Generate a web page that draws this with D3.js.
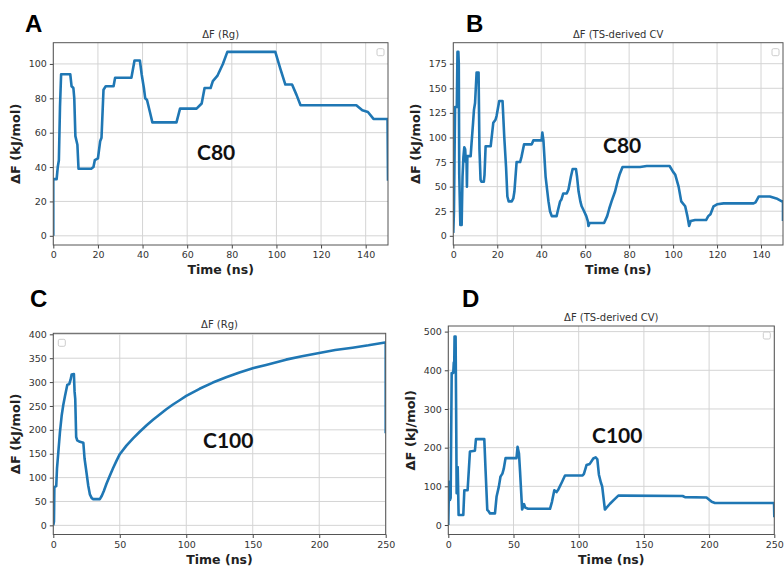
<!DOCTYPE html>
<html>
<head>
<meta charset="utf-8">
<script src="https://cdn.jsdelivr.net/npm/d3@7"></script>
<style>
  body { margin: 0; background: #fff; }
  svg { display: block; }
</style>
</head>
<body>
<script>
// Data: [time (ns), dF (kJ/mol)]
const rgC80 = [[0,0],[0,33],[1.5,33],[2,40],[2.5,44],[3,75],[3.5,94],[7.6,94],[8.2,87],[9,86],[9.4,80],[9.9,58],[10.8,53],[11.3,39],[17,39],[18,40],[18.6,44],[20,45],[21,55],[21.6,57],[22.5,85],[23.5,87],[27,87],[27.7,92],[35,92],[36.4,102],[38.8,102],[39.6,94],[40.6,86],[41.2,80],[42,79],[43.3,72],[44.4,66],[55.2,66],[56.8,74],[64.2,74],[66.5,77],[67.8,86],[70.5,86],[71.5,90],[73.5,93],[76,100],[78,107],[99.5,107],[101.8,97],[104,88],[107,88],[109,82],[110.8,76],[135.8,76],[138.5,73],[141,72],[143.5,68],[149.8,68],[150,32]];

const tsC80 = [[0,3],[0.3,25],[0.8,131],[1.6,131],[1.9,187],[2.3,187],[2.5,175],[2.7,63],[3.2,11],[3.8,11],[4.2,60],[4.6,80],[5.0,90],[5.4,88],[5.7,75],[6.0,80],[6.2,50],[6.4,81],[7.9,81],[8.3,94],[9.0,115],[9.4,128],[9.9,135],[10.6,166],[11.5,166],[11.9,88],[12.4,57],[12.8,55],[13.9,55],[14.2,62],[14.7,91],[17.0,91],[18.2,115],[19.2,118],[19.7,122],[20.9,137],[22.4,137],[23.2,100],[24.0,70],[24.6,40],[25.2,35],[26.6,35],[27.3,38],[27.8,45],[28.8,75],[30.4,75],[31.0,80],[32.2,93],[35.7,93],[36.4,97],[40.2,97],[40.5,105],[41.0,97],[42.0,60],[43.3,35],[44.0,25],[44.8,20],[47.0,20],[47.5,25],[48.6,35],[49.2,37],[50.0,43],[51.6,43],[52.4,47],[53.5,60],[54.3,68],[55.8,68],[56.3,60],[57.0,45],[57.8,35],[58.4,30],[59.5,25],[60.5,20],[61.2,15],[61.5,10],[62.0,13],[68.6,13],[70.0,20],[71.0,28],[72.0,35],[73.6,45],[74.7,55],[75.6,62],[77.0,70],[85.0,70],[88.0,71],[98.4,71],[100.0,65],[101.0,62],[102.5,50],[103.7,35],[105.5,30],[106.5,20],[107.3,10],[108.0,15],[110.0,16],[115.0,16],[116.0,20],[117.0,22],[118.4,30],[120.0,32],[123.0,33],[136.6,33],[137.5,34],[139.0,40],[144.0,40],[147.0,38],[149.5,35],[150,35],[150,15]];

const rgC100 = [[0,0],[0.5,8],[0.8,80],[2.2,82],[2.8,120],[3.8,154],[5,195],[6.3,230],[7.5,252],[8.8,271],[10.5,294],[12,296],[13,305],[13.8,316],[15.5,317],[16,280],[16.5,265],[17.2,185],[18,178],[20,175],[22.6,173],[23.5,140],[24.6,118],[26.3,83],[27.5,65],[28.9,57],[30,55],[35,55],[36.5,62],[38,72],[40,87],[42.5,104],[45,120],[47.5,135],[50,149],[55,167],[60,182],[65,196],[70,209],[75,221],[80,232],[85,243],[90,253],[95,262],[100,271],[110,286],[120,299],[130,310],[140,320],[150,329],[160,336],[175,347],[187,354],[200,361],[212,367],[225,372],[237,377],[249.5,383],[250,383],[250,193]];

const tsC100 = [[0,0],[0.3,60],[0.5,112],[1.3,65],[1.8,70],[2.6,393],[3.8,393],[4.2,420],[4.5,400],[4.8,487],[5.6,487],[6.0,300],[6.4,82],[7.2,150],[7.5,100],[7.9,26],[11.5,26],[12.3,90],[14.8,90],[15.8,145],[16.6,190],[20.4,192],[21.2,222],[27.6,222],[28.6,140],[29.9,39],[31,35],[32,30],[35.8,30],[37,73],[38.8,100],[40,125],[41.5,133],[42.5,145],[43.9,173],[52.3,173],[53.1,202],[54.2,185],[55,140],[56.6,40],[58.1,54],[59,45],[61.2,42],[78,42],[79.5,60],[81.3,90],[83,85],[84.4,92],[87,110],[89.5,128],[103,128],[104,132],[106,155],[108.5,158],[111.2,172],[113,175],[114.3,170],[115.5,130],[117,110],[118,100],[120.1,40],[124,55],[127,65],[130.4,76],[133,76],[179.7,75],[181.5,72],[198,71],[202,60],[204.5,57],[249.8,57],[250,20]];

// Tick values
const xTicks150 = [0, 20, 40, 60, 80, 100, 120, 140];
const xTicks250 = [0, 50, 100, 150, 200, 250];
const yTicksA = [0, 20, 40, 60, 80, 100];
const yTicksB = [0, 25, 50, 75, 100, 125, 150, 175];
const yTicksC = [0, 50, 100, 150, 200, 250, 300, 350, 400];
const yTicksD = [0, 100, 200, 300, 400, 500];

const panels = [
  {letter: "A", title: "\u0394F (Rg)", tag: "C80", data: rgC80, xmax: 150, ydom: [-5.35, 112.35],
   xt: xTicks150, yt: yTicksA, box: [53.3, 388, 42.7, 245], lx: 25, ly: 32, tagx: 197, tagy: 160, leg: "right"},
  {letter: "B", title: "\u0394F (TS-derived CV", tag: "C80", data: tsC80, xmax: 150, ydom: [-9.35, 196.35],
   xt: xTicks150, yt: yTicksB, box: [453.3, 783, 42.7, 245], lx: 466, ly: 32, tagx: 603, tagy: 153, leg: "right"},
  {letter: "C", title: "\u0394F (Rg)", tag: "C100", data: rgC100, xmax: 250, ydom: [-19.15, 402.15],
   xt: xTicks250, yt: yTicksC, box: [53.3, 385.7, 333.3, 534.5], lx: 30, ly: 307, tagx: 203, tagy: 448, leg: "left"},
  {letter: "D", title: "\u0394F (TS-derived CV)", tag: "C100", data: tsC100, xmax: 250, ydom: [-24.5, 514.5],
   xt: xTicks250, yt: yTicksD, box: [448.3, 774.3, 326, 534.5], lx: 462, ly: 307, tagx: 592, tagy: 443, leg: "right"}
];

const svg = d3.select("body").append("svg")
    .attr("width", 784)
    .attr("height", 568);

panels.forEach(p => {
  const [x0, x1, y0, y1] = p.box;
  const x = d3.scaleLinear().domain([0, p.xmax]).range([x0, x1]);
  const y = d3.scaleLinear().domain(p.ydom).range([y1, y0]);
  const g = svg.append("g");

  // grid
  g.append("g").selectAll("line").data(p.xt).enter().append("line")
      .attr("x1", d => x(d)).attr("x2", d => x(d))
      .attr("y1", y0).attr("y2", y1)
      .attr("stroke", "#d4d4d4").attr("stroke-width", 1);
  g.append("g").selectAll("line").data(p.yt).enter().append("line")
      .attr("x1", x0).attr("x2", x1)
      .attr("y1", d => y(d)).attr("y2", d => y(d))
      .attr("stroke", "#d4d4d4").attr("stroke-width", 1);

  // axes
  const xa = g.append("g").attr("transform", `translate(0,${y1})`)
      .call(d3.axisBottom(x).tickValues(p.xt).tickSizeInner(3.5).tickSizeOuter(0).tickPadding(3));
  const ya = g.append("g").attr("transform", `translate(${x0},0)`)
      .call(d3.axisLeft(y).tickValues(p.yt).tickSizeInner(3.5).tickSizeOuter(0).tickPadding(3));
  [xa, ya].forEach(a => {
    a.select(".domain").remove();
    a.selectAll("line").attr("stroke", "#444");
    a.selectAll("text").attr("fill", "#333")
        .style("font-family", "'DejaVu Sans', sans-serif").style("font-size", "9.5px");
  });

  // line
  const clipId = "clip" + p.letter;
  g.append("clipPath").attr("id", clipId).append("rect")
      .attr("x", x0).attr("y", y0).attr("width", x1 - x0).attr("height", y1 - y0);
  g.append("path")
      .datum(p.data)
      .attr("clip-path", `url(#${clipId})`)
      .attr("fill", "none")
      .attr("stroke", "#1f77b4")
      .attr("stroke-width", 2.6)
      .attr("stroke-linejoin", "round")
      .attr("d", d3.line().x(d => x(d[0])).y(d => y(d[1])));

  // spines
  g.append("rect")
      .attr("x", x0).attr("y", y0).attr("width", x1 - x0).attr("height", y1 - y0)
      .attr("fill", "none").attr("stroke", "#555").attr("stroke-width", 1);

  // empty legend box
  const lgx = p.leg === "right" ? x1 - 11 : x0 + 5;
  g.append("rect")
      .attr("x", lgx).attr("y", y0 + 6).attr("width", 7).attr("height", 7).attr("rx", 1.5)
      .attr("fill", "#fff").attr("stroke", "#ccc").attr("stroke-width", 1);

  // title
  g.append("text")
      .attr("x", (x0 + x1) / 2).attr("y", y0 - 5)
      .attr("text-anchor", "middle")
      .style("font-family", "'DejaVu Sans', sans-serif").style("font-size", "10px")
      .attr("fill", "#333")
      .text(p.title);

  // axis labels
  g.append("text")
      .attr("x", (x0 + x1) / 2).attr("y", y1 + 29)
      .attr("text-anchor", "middle")
      .style("font-family", "'DejaVu Sans', sans-serif").style("font-size", "12.5px").style("font-weight", "bold")
      .attr("fill", "#222")
      .text("Time (ns)");
  g.append("text")
      .attr("transform", `translate(${x0 - 33},${(y0 + y1) / 2}) rotate(-90)`)
      .attr("text-anchor", "middle")
      .style("font-family", "'DejaVu Sans', sans-serif").style("font-size", "13px").style("font-weight", "bold")
      .attr("fill", "#222")
      .text("\u0394F (kJ/mol)");

  // panel letter
  g.append("text")
      .attr("x", p.lx).attr("y", p.ly)
      .style("font-family", "'Liberation Sans', Arial, sans-serif").style("font-size", "24px").style("font-weight", "bold")
      .attr("fill", "#000")
      .text(p.letter);

  // system tag
  g.append("text")
      .attr("x", p.tagx).attr("y", p.tagy)
      .style("font-family", "Lato, 'Open Sans', sans-serif").style("font-size", "21px").style("font-weight", "bold")
      .attr("fill", "#111")
      .text(p.tag);
});
</script>
</body>
</html>
